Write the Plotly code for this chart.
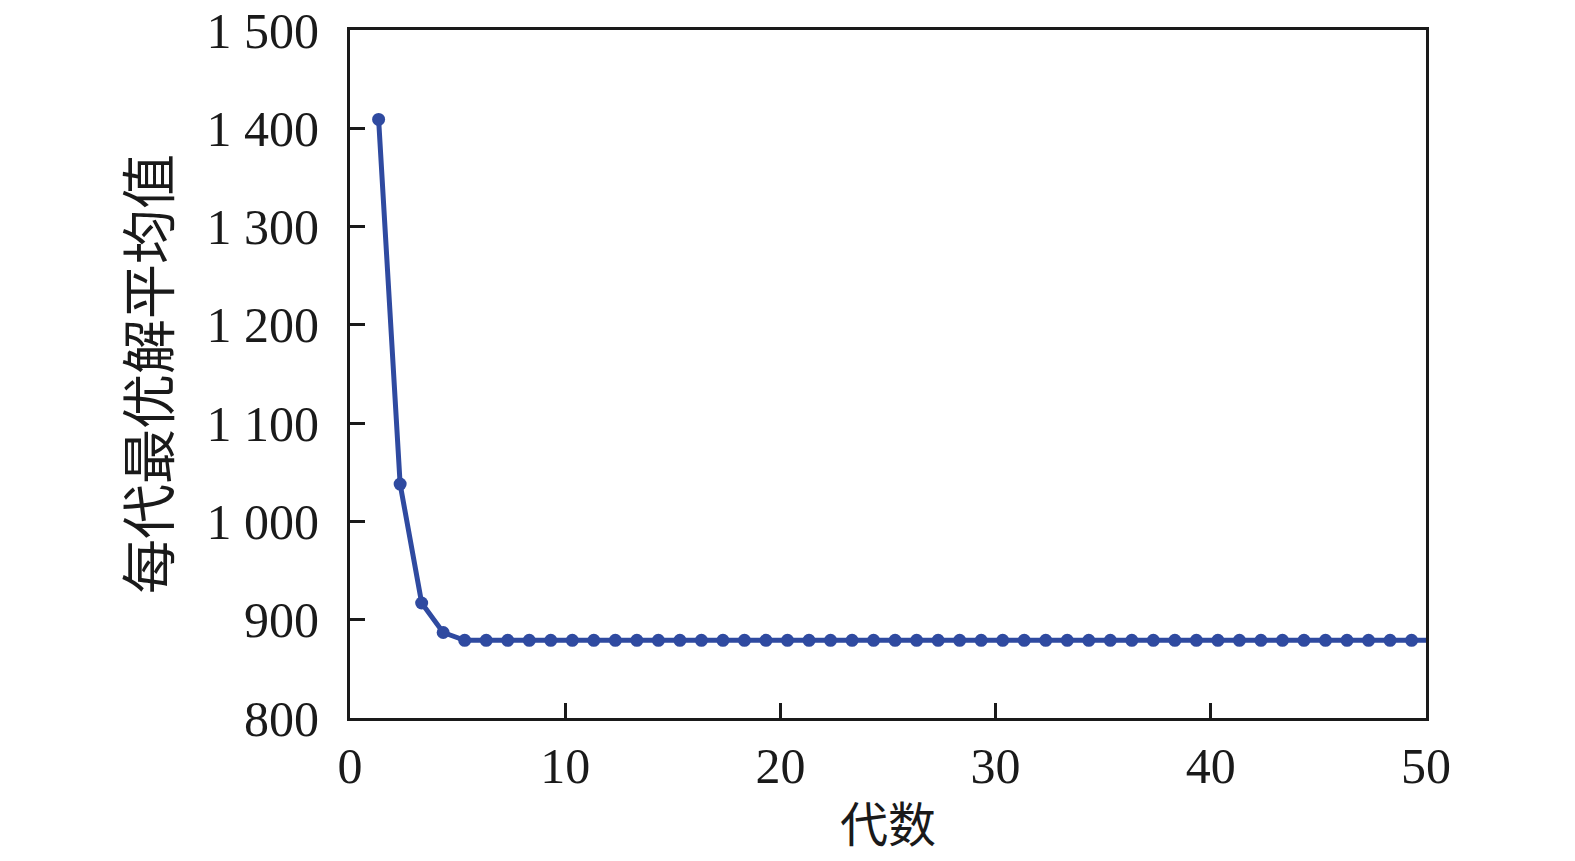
import plotly.graph_objects as go

# generation index (as plotted, slightly shifted right like the original)
generations = [g + 0.33 for g in range(1, 51)]
best_avg = [1409, 1038, 917, 887] + [879] * 46

x_ticks = [0, 10, 20, 30, 40, 50]
y_ticks = [800, 900, 1000, 1100, 1200, 1300, 1400, 1500]
y_tick_text = ['800', '900', '1 000', '1 100', '1 200', '1 300', '1 400', '1 500']

LINE_COLOR = '#2f4aa0'
SERIF = 'Liberation Serif, Times New Roman, serif'
CJK = 'Noto Sans CJK SC'

fig = go.Figure()
fig.add_trace(go.Scatter(
    x=generations,
    y=best_avg,
    mode='lines+markers',
    line=dict(color=LINE_COLOR, width=5),
    marker=dict(color=LINE_COLOR, size=13, symbol='circle'),
    showlegend=False,
))

axis_common = dict(
    showline=True,
    linecolor='#1a1a1a',
    linewidth=3,
    mirror=True,
    showgrid=False,
    zeroline=False,
    ticks='inside',
    ticklen=15,
    tickwidth=3,
    tickcolor='#1a1a1a',
    ticklabeloverflow='allow',
    automargin=False,
    tickfont=dict(family=SERIF, size=50, color='#1a1a1a'),
)

fig.update_layout(
    width=1575,
    height=861,
    plot_bgcolor='white',
    paper_bgcolor='white',
    margin=dict(l=342, r=157, t=22, b=151),
    xaxis=dict(
        range=[0, 50],
        tickvals=x_ticks,
        ticklabelstandoff=2,
        title=dict(text='代数', font=dict(family=CJK, size=48, color='#1a1a1a'), standoff=16),
        **axis_common,
    ),
    yaxis=dict(
        range=[800, 1500],
        tickvals=y_ticks,
        ticktext=y_tick_text,
        ticklabelstandoff=18,
        title=dict(text='每代最优解平均值', font=dict(family=CJK, size=55, color='#1a1a1a'), standoff=20),
        **axis_common,
    ),
)

fig.write_html("out.html")
